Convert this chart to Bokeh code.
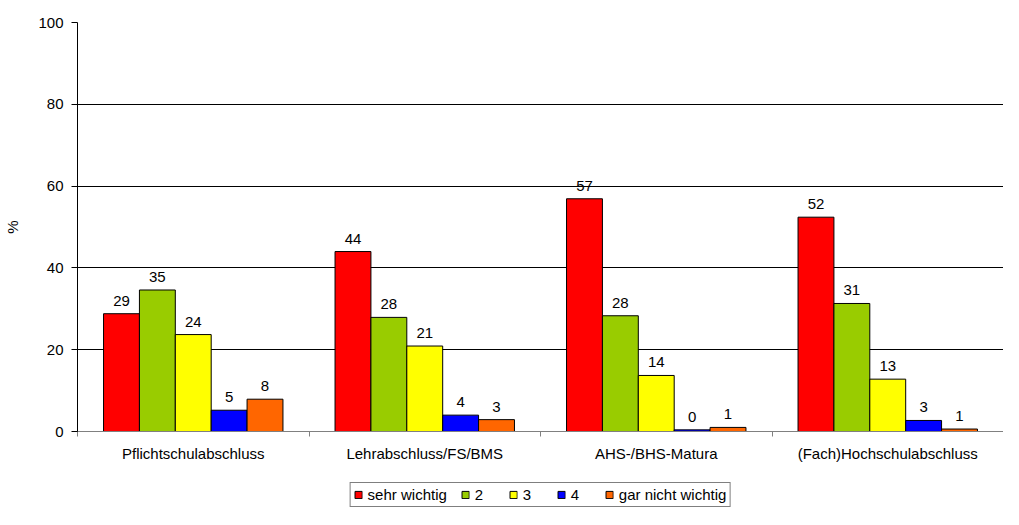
from bokeh.plotting import figure
from bokeh.layouts import column
from bokeh.models import ColumnDataSource, Range1d, FixedTicker, Legend, LegendItem
from bokeh.embed import file_html
from bokeh.resources import INLINE
from bokeh.core.properties import value

categories = ["Pflichtschulabschluss", "Lehrabschluss/FS/BMS", "AHS-/BHS-Matura", "(Fach)Hochschulabschluss"]
series_names = ["sehr wichtig", "2", "3", "4", "gar nicht wichtig"]
sehr_wichtig = [28.8, 44.0, 56.9, 52.4]
wert_2 = [34.6, 27.9, 28.3, 31.3]
wert_3 = [23.7, 20.9, 13.7, 12.8]
wert_4 = [5.2, 4.0, 0.4, 2.7]
gar_nicht_wichtig = [7.9, 2.9, 1.0, 0.6]
colors = ["#FF0000", "#99CC00", "#FFFF00", "#0000FF", "#FF6600"]
y_ticks = [0, 20, 40, 60, 80, 100]

series_values = [sehr_wichtig, wert_2, wert_3, wert_4, gar_nicht_wichtig]

FONT = "Liberation Sans"
n_cat = len(categories)
n_ser = len(series_values)
bar_w = 0.155

p = figure(width=1003, height=464, x_range=Range1d(0, n_cat), y_range=Range1d(0, 100),
           output_backend="svg", toolbar_location=None,
           min_border_left=77, min_border_top=22, min_border_right=0, min_border_bottom=5)
p.outline_line_color = None

for j, (name, vals, col) in enumerate(zip(series_names, series_values, colors)):
    off = (j - (n_ser - 1) / 2) * bar_w
    xs = [i + 0.5 + off for i in range(n_cat)]
    src = ColumnDataSource(dict(x=xs, top=vals, lab=[str(int(round(v))) for v in vals]))
    p.vbar(x="x", top="top", bottom=0, width=bar_w, source=src,
           fill_color=col, line_color="black", line_width=1)
    p.text(x="x", y="top", text="lab", source=src, text_align="center",
           text_baseline="alphabetic", y_offset=-13, text_font=value(FONT),
           text_font_size="15px", text_color="black")

# y axis
p.yaxis.ticker = FixedTicker(ticks=y_ticks)
p.yaxis.axis_label = "%"
p.yaxis.axis_label_text_font = FONT
p.yaxis.axis_label_text_font_size = "15px"
p.yaxis.axis_label_text_font_style = "normal"
p.yaxis.axis_label_text_color = "black"
p.yaxis.axis_label_standoff = 14
p.yaxis.major_label_text_font = FONT
p.yaxis.major_label_text_font_size = "15px"
p.yaxis.major_label_text_color = "black"
p.yaxis.major_label_standoff = 8
p.yaxis.major_tick_out = 6
p.yaxis.major_tick_in = 0
p.yaxis.minor_tick_line_color = None
p.yaxis.axis_line_color = "black"
p.yaxis.major_tick_line_color = "black"

p.ygrid.grid_line_color = "black"
p.ygrid.grid_line_width = 1
p.xgrid.grid_line_color = None

# x axis
centers = [i + 0.5 for i in range(n_cat)]
bounds = [float(i) for i in range(n_cat + 1)]
p.xaxis.ticker = FixedTicker(ticks=centers, minor_ticks=bounds)
p.xaxis.major_label_overrides = {c: cat for c, cat in zip(centers, categories)}
p.xaxis.major_tick_line_color = None
p.xaxis.major_tick_out = 0
p.xaxis.major_tick_in = 0
p.xaxis.minor_tick_out = 5
p.xaxis.minor_tick_in = 0
p.xaxis.minor_tick_line_color = "#808080"
p.xaxis.axis_line_color = "#808080"
p.xaxis.major_label_text_font = FONT
p.xaxis.major_label_text_font_size = "15px"
p.xaxis.major_label_text_color = "black"
p.xaxis.major_label_standoff = 8

# legend panel as separate figure
lg = figure(width=1003, height=45, x_range=Range1d(0, 1), y_range=Range1d(0, 1),
            output_backend="svg", toolbar_location=None,
            x_axis_location=None, y_axis_location=None,
            min_border=0)
lg.outline_line_color = None
lg.grid.visible = False
items = []
for name, col in zip(series_names, colors):
    r = lg.vbar(x=[5], top=[0], width=0.1, fill_color=col, line_color="black", line_width=1)
    items.append(LegendItem(label=name, renderers=[r]))
legend = Legend(items=items, orientation="horizontal", location="bottom_center",
                border_line_color="black", border_line_width=1,
                label_text_font=FONT, label_text_font_size="15px", label_text_color="black",
                glyph_width=9, glyph_height=9, label_standoff=5, spacing=14,
                padding=3, margin=2, label_height=16)
lg.add_layout(legend, "center")

layout = column(p, lg, spacing=0)
open("out.html", "w").write(file_html(layout, INLINE))
